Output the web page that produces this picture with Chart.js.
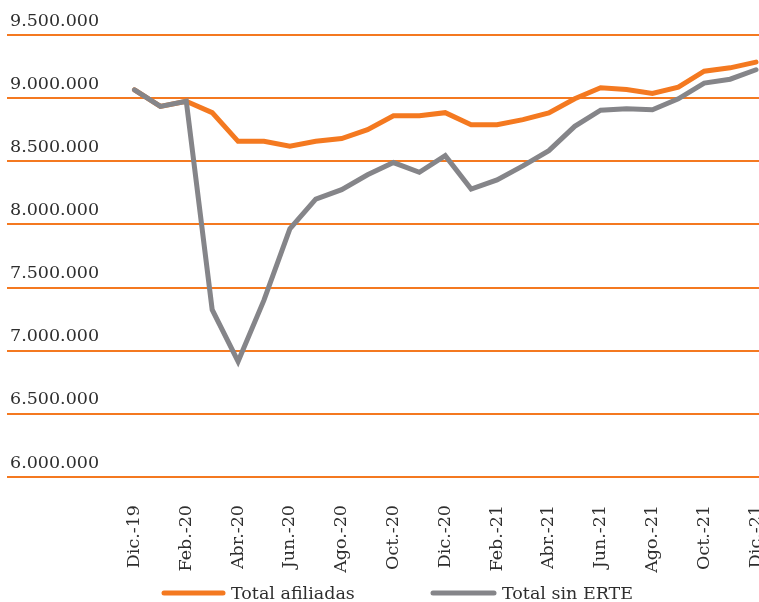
<!DOCTYPE html>
<html>
<head>
<meta charset="utf-8">
<script src="https://cdn.jsdelivr.net/npm/chart.js@4/dist/chart.umd.min.js"></script>
<style>
  html, body { margin: 0; padding: 0; background: #ffffff; }
  #wrap { width: 759px; height: 602px; }
</style>
</head>
<body>
<div id="wrap"><canvas id="c" width="759" height="602"></canvas></div>
<script>
// ---- data ----
const months = ['Dic.-19','Ene.-20','Feb.-20','Mar.-20','Abr.-20','May.-20','Jun.-20','Jul.-20','Ago.-20','Sep.-20','Oct.-20','Nov.-20','Dic.-20',
                'Ene.-21','Feb.-21','Mar.-21','Abr.-21','May.-21','Jun.-21','Jul.-21','Ago.-21','Sep.-21','Oct.-21','Nov.-21','Dic.-21'];
const totalAfiliadas = [9065000, 8935000, 8975000, 8885000, 8658000, 8658000, 8620000, 8658000, 8680000, 8751000, 8861000, 8861000, 8885000,
                        8790000, 8790000, 8830000, 8883000, 8995000, 9082000, 9069000, 9037000, 9087000, 9213000, 9240000, 9285000];
const totalSinERTE   = [9065000, 8935000, 8975000, 7325000, 6915000, 7400000, 7965000, 8200000, 8275000, 8393000, 8490000, 8413000, 8545000,
                        8280000, 8352000, 8464000, 8584000, 8777000, 8905000, 8916000, 8908000, 8995000, 9119000, 9150000, 9225000];
const yTicks = [6000000, 6500000, 7000000, 7500000, 8000000, 8500000, 9000000, 9500000];
const seriesNames = ['Total afiliadas', 'Total sin ERTE'];

// ---- styles ----
const ORANGE = '#F47920';
const GREY = '#858589';
const TEXT = '#2e2e2e';
const FONT = '"DejaVu Serif", serif';
const FS = 17.5;

const toPts = arr => arr.map((v, i) => ({x: i, y: v}));
const fmt = v => String(Math.round(v)).replace(/\B(?=(\d{3})+(?!\d))/g, '.');

const customLegend = {
  id: 'customLegend',
  afterDraw(chart) {
    const ctx = chart.ctx;
    const items = [
      {ds: chart.data.datasets[0], x0: 164, x1: 223, tx: 231},
      {ds: chart.data.datasets[1], x0: 433, x1: 494, tx: 502}
    ];
    const y = 593;
    ctx.save();
    items.forEach(it => {
      ctx.beginPath();
      ctx.lineWidth = 5;
      ctx.lineCap = 'round';
      ctx.strokeStyle = it.ds.borderColor;
      ctx.moveTo(it.x0, y);
      ctx.lineTo(it.x1, y);
      ctx.stroke();
      ctx.fillStyle = TEXT;
      ctx.font = FS + 'px ' + FONT;
      ctx.textBaseline = 'middle';
      ctx.textAlign = 'left';
      ctx.fillText(it.ds.label, it.tx, y + 1);
    });
    ctx.restore();
  }
};

new Chart(document.getElementById('c'), {
  type: 'line',
  data: {
    datasets: [
      {label: seriesNames[0], data: toPts(totalAfiliadas), borderColor: ORANGE, backgroundColor: ORANGE,
       borderWidth: 5, pointRadius: 0, tension: 0, borderCapStyle: 'round', borderJoinStyle: 'miter', order: 1},
      {label: seriesNames[1], data: toPts(totalSinERTE), borderColor: GREY, backgroundColor: GREY,
       borderWidth: 5, pointRadius: 0, tension: 0, borderCapStyle: 'round', borderJoinStyle: 'miter', order: 0}
    ]
  },
  options: {
    responsive: false,
    animation: false,
    devicePixelRatio: 1,
    layout: {padding: {top: 35, right: 0, bottom: 0, left: 0}},
    plugins: {legend: {display: false}, tooltip: {enabled: false}},
    scales: {
      x: {
        type: 'linear',
        min: -4.923,
        max: 24.116,
        grid: {display: false},
        border: {display: false},
        ticks: {
          stepSize: 1,
          autoSkip: false,
          includeBounds: false,
          minRotation: 90,
          maxRotation: 90,
          padding: 20,
          color: TEXT,
          font: {family: FONT, size: FS},
          callback: v => (Number.isInteger(v) && v >= 0 && v % 2 === 0 && months[v]) ? months[v] : ''
        },
        afterFit: s => { s.height = 125; s.paddingLeft = 0; s.paddingRight = 0; }
      },
      y: {
        min: yTicks[0],
        max: yTicks[yTicks.length - 1],
        afterBuildTicks: s => { s.ticks = yTicks.map(v => ({value: v})); },
        grid: {color: ORANGE, lineWidth: 2, drawTicks: false},
        border: {display: false},
        ticks: {
          mirror: true,
          padding: 3,
          labelOffset: -14,
          color: TEXT,
          font: {family: FONT, size: FS},
          callback: v => fmt(v)
        },
        afterFit: s => { s.width = 7; }
      }
    }
  },
  plugins: [customLegend]
});
</script>
</body>
</html>
